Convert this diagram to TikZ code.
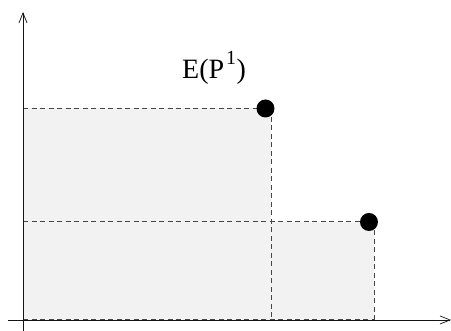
\documentclass[tikz,border=0pt]{standalone}
\usepackage{fontspec}
\setmainfont{Liberation Serif}
\usepackage{tikz}
\usetikzlibrary{
  arrows.meta,
  positioning
}
\definecolor{axisblack}{RGB}{20,20,20}
\definecolor{dashgray}{RGB}{70,70,70}
\definecolor{shadegray}{RGB}{242,242,242}
\tikzset{
  axis/.style={-{Straight Barb[length=10pt,width=8pt]},line width=0.7pt,draw=axisblack},
  guide/.style={draw=dashgray,line width=1pt,dash pattern=on 5pt off 3.5pt},
  region/.style={fill=shadegray,draw=none},
  point/.style={circle,fill=black,inner sep=0pt,minimum size=18pt},
  lab/.style={font=\fontsize{28}{30}\selectfont,inner sep=0pt}
}
\newcommand{\supone}{\kern2pt\raisebox{14pt}{\fontsize{20}{20}\selectfont 1}\kern0.5pt}

\begin{document}
\begin{tikzpicture}[x=1pt,y=1pt]
  \useasboundingbox (0,0) rectangle (451,331);
  % axes ends
  \coordinate (o) at (23,11);
  \coordinate (xs) at (8,11);
  \coordinate (xe) at (451,11);
  \coordinate (ys) at (23,0);
  \coordinate (ye) at (23,319);
  % corners of the dominated area
  \coordinate (c1) at (271,222.5);
  \coordinate (c2) at (374,109);
  \coordinate (b1) at (271,11);
  \coordinate (b2) at (374,11);
  \coordinate (l1) at (23,222.5);
  \coordinate (l2) at (23,109);
  \coordinate (q1) at (265.5,222.5);
  \coordinate (q2) at (369,109);
  % shaded area
  \fill[region] (o) rectangle (c1);
  \fill[region] (b1) rectangle (c2);
  % dashed guides
  \draw[guide] (l1) -- (q1);
  \draw[guide] (c1) -- (b1);
  \draw[guide] (l2) -- (q2);
  \draw[guide] (c2) -- (b2);
  \draw[guide] (o) -- (b2);
  % axes
  \draw[axis] (xs) -- (xe);
  \draw[axis] (ys) -- (ye);
  % points and label
  \node[point] (p1) at (q1) {};
  \node[point] (p2) at (q2) {};
  \node[lab,anchor=base west] (e1) at (182,252) {E(P\supone)};
\end{tikzpicture}
\end{document}
